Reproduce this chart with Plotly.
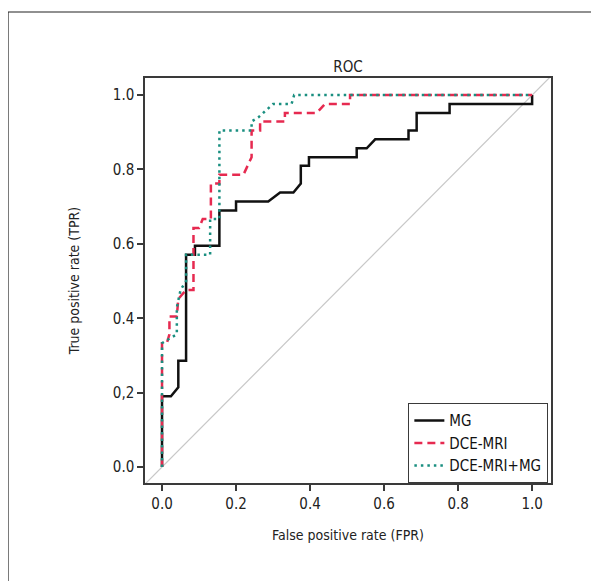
import plotly.graph_objects as go

# Data (FPR, TPR)
mg_fpr = [0, 0, 0.024, 0.044, 0.044, 0.065, 0.065, 0.089, 0.089, 0.155, 0.155, 0.2, 0.2, 0.287, 0.319,
          0.355, 0.375, 0.375, 0.397, 0.397, 0.526, 0.526, 0.553, 0.576, 0.666, 0.666, 0.688, 0.688,
          0.777, 0.777, 1.0, 1.0]
mg_tpr = [0, 0.190, 0.190, 0.214, 0.286, 0.286, 0.571, 0.571, 0.595, 0.595, 0.690, 0.690, 0.714, 0.714, 0.738,
          0.738, 0.762, 0.810, 0.810, 0.833, 0.833, 0.857, 0.857, 0.881, 0.881, 0.905, 0.905, 0.952,
          0.952, 0.976, 0.976, 1.0]

dce_fpr = [0, 0, 0.013, 0.02, 0.02, 0.04, 0.044, 0.065, 0.085, 0.085, 0.1, 0.11, 0.132, 0.132, 0.155, 0.155,
           0.22, 0.242, 0.242, 0.265, 0.265, 0.332, 0.332, 0.418, 0.44, 0.508, 0.508, 1.0]
dce_tpr = [0, 0.333, 0.333, 0.357, 0.405, 0.405, 0.452, 0.476, 0.476, 0.643, 0.643, 0.667, 0.667, 0.762, 0.762, 0.786,
           0.786, 0.833, 0.905, 0.905, 0.929, 0.929, 0.952, 0.952, 0.976, 0.976, 1.0, 1.0]

comb_fpr = [0, 0, 0.02, 0.04, 0.04, 0.05, 0.065, 0.065, 0.13, 0.13, 0.155, 0.155, 0.242, 0.242, 0.26, 0.3,
            0.35, 0.357, 1.0]
comb_tpr = [0, 0.333, 0.345, 0.357, 0.429, 0.476, 0.5, 0.571, 0.571, 0.667, 0.667, 0.905, 0.905, 0.929, 0.94, 0.976,
            0.976, 1.0, 1.0]

diag = [-0.1, 1.1]

tick_vals = [0, 0.2, 0.4, 0.6, 0.8, 1.0]
x_tick_text = ["0.0", "0.2", "0.4", "0.6", "0.8", "1.0"]
y_tick_text = ["0.0", "0,2", "0.4", "0.6", "0.8", "1.0"]

FONT = "DejaVu Sans Condensed, Liberation Sans Narrow, sans-serif"
AX = "#3a3a3a"

fig = go.Figure()
fig.add_trace(go.Scatter(x=diag, y=diag, mode="lines", line=dict(color="#c8c8c8", width=1.2),
                         showlegend=False, hoverinfo="skip"))
fig.add_trace(go.Scatter(x=mg_fpr, y=mg_tpr, mode="lines", name="MG",
                         line=dict(color="#111111", width=2.5)))
fig.add_trace(go.Scatter(x=dce_fpr, y=dce_tpr, mode="lines", name="DCE-MRI",
                         line=dict(color="#e62a50", width=2.5, dash="8px,5px")))
fig.add_trace(go.Scatter(x=comb_fpr, y=comb_tpr, mode="lines", name="DCE-MRI+MG",
                         line=dict(color="#1a8f80", width=2.5, dash="2.5px,4px")))

# page is offset by the 8px body margin; plot area spans page px 145-551 x 78-483
fig.update_layout(
    width=599, height=581,
    margin=dict(l=137, r=56, t=70, b=106),
    paper_bgcolor="white", plot_bgcolor="white",
    font=dict(family=FONT, size=15, color="#222222"),
    title=dict(text="ROC", x=340 / 599, xanchor="center", y=1 - 59 / 581, yanchor="middle",
               font=dict(family=FONT, size=15, color="#222222")),
    xaxis=dict(range=[-0.046, 1.051], tickvals=tick_vals, ticktext=x_tick_text,
               ticks="outside", ticklen=6, tickwidth=1.5, tickcolor=AX,
               tickfont=dict(family=FONT, size=15),
               showline=True, linecolor=AX, linewidth=1.5, mirror=True,
               showgrid=False, zeroline=False,
               title=dict(text="False positive rate (FPR)", standoff=18,
                          font=dict(family=FONT, size=14))),
    yaxis=dict(range=[-0.043, 1.046], tickvals=tick_vals, ticktext=y_tick_text,
               ticks="outside", ticklen=6, tickwidth=1.5, tickcolor=AX,
               tickfont=dict(family=FONT, size=15),
               showline=True, linecolor=AX, linewidth=1.5, mirror=True,
               showgrid=False, zeroline=False,
               title=dict(text="True positive rate (TPR)", standoff=30,
                          font=dict(family=FONT, size=14))),
    legend=dict(x=0.993, y=0.0, xanchor="right", yanchor="bottom",
                bgcolor="white", bordercolor=AX, borderwidth=1.2,
                font=dict(family=FONT, size=15, color="#111111"),
                itemwidth=30, tracegroupgap=0),
    shapes=[dict(type="rect", xref="paper", yref="paper",
                 x0=(8 - 145) / 406, x1=(640 - 145) / 406,
                 y0=(483 - 640) / 405, y1=(483 - 12) / 405,
                 line=dict(color="#222222", width=1.2), fillcolor="rgba(0,0,0,0)", layer="below")],
)

fig.write_html("out.html")
